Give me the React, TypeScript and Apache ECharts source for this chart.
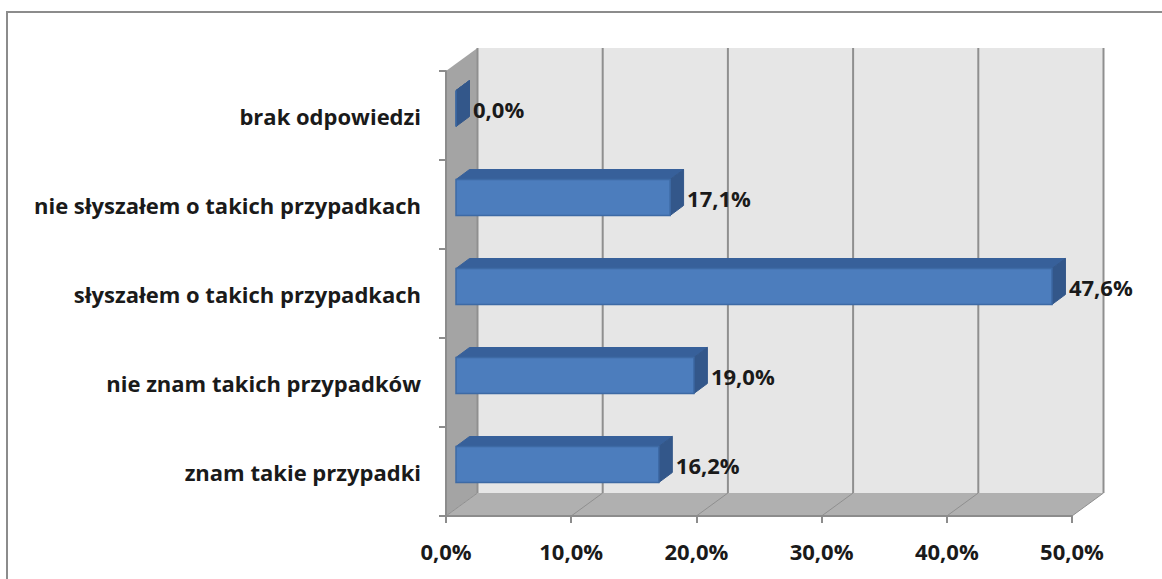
import React, { useEffect, useRef } from "react";
import * as echarts from "echarts";

const categories = ["znam takie przypadki", "nie znam takich przypadków", "słyszałem o takich przypadkach", "nie słyszałem o takich przypadkach", "brak odpowiedzi"];
const values = [16.2, 19.0, 47.6, 17.1, 0.0];
const gridTicks = [0, 10, 20, 30, 40, 50];

const fmt = (v: number) => v.toFixed(1).replace(".", ",") + "%";
const FONT = '"Open Sans", "Noto Sans", sans-serif';
const FS = 22;
const DX = 31.5;
const DY = 23;

export default function App() {
  const ref = useRef<HTMLDivElement>(null);
  useEffect(() => {
    const chart = echarts.init(ref.current!, undefined, { renderer: "svg" });
    const labelStyle = { fontFamily: FONT, fontWeight: 700, fontSize: FS, color: "#1a1a1a" };
    chart.setOption({
      animation: false,
      backgroundColor: "#fff",
      graphic: [
        { type: "rect", z: -1, shape: { x: 7, y: 12, width: 1300, height: 700 }, style: { fill: "#fff", stroke: "#8c8c8c", lineWidth: 2 } },
      ],
      grid: { left: 446, top: 71, width: 626, height: 445, containLabel: false },
      xAxis: {
        type: "value", min: 0, max: 50, interval: 10,
        axisLine: { show: true, lineStyle: { color: "#8c8c8c", width: 2 } },
        axisTick: { show: true, length: 7, lineStyle: { color: "#8c8c8c", width: 2 } },
        splitLine: { show: false },
        axisLabel: { ...labelStyle, margin: 24, formatter: (v: number) => fmt(v) },
        z: 5,
      },
      yAxis: {
        type: "category", data: categories,
        axisLine: { show: true, lineStyle: { color: "#8c8c8c", width: 2 } },
        axisTick: { show: true, length: 7, lineStyle: { color: "#8c8c8c", width: 2 } },
        axisLabel: { ...labelStyle, margin: 25, padding: [4, 0, 0, 0] },
        z: 5,
      },
      series: [
        {
          type: "custom", coordinateSystem: "cartesian2d", clip: false, z: 1, silent: true,
          data: [[0, 0]],
          renderItem: (params: any) => {
            const { x, y, width: w, height: h } = params.coordSys;
            return {
              type: "group",
              children: [
                { type: "polygon", shape: { points: [[x + DX, y - DY], [x + w + DX, y - DY], [x + w + DX, y + h - DY], [x + DX, y + h - DY]] },
                  style: { fill: "#e6e6e6", stroke: "none" } },
                { type: "polygon", shape: { points: [[x, y], [x + DX, y - DY], [x + DX, y + h - DY], [x, y + h]] },
                  style: { fill: "#a4a4a4", stroke: "none" } },
                { type: "polygon", shape: { points: [[x, y + h], [x + DX, y + h - DY], [x + w + DX, y + h - DY], [x + w, y + h]] },
                  style: { fill: "#b0b0b0", stroke: "none" } },
              ],
            };
          },
        },
        {
          type: "custom", coordinateSystem: "cartesian2d", clip: false, z: 2, silent: true,
          encode: { x: 0 },
          data: gridTicks.map((t) => [t, 0]),
          renderItem: (params: any, api: any) => {
            const p = api.coord([api.value(0), 0]);
            const { y, height: h } = params.coordSys;
            const b = y + h;
            const st = { stroke: "#8f8f8f", lineWidth: 2, fill: "none" };
            return {
              type: "group",
              children: [
                { type: "line", shape: { x1: p[0] + DX, y1: y - DY, x2: p[0] + DX, y2: b - DY }, style: st },
                { type: "line", shape: { x1: p[0], y1: b, x2: p[0] + DX, y2: b - DY }, style: { ...st, lineWidth: 1 } },
              ],
            };
          },
        },
        {
          type: "custom", coordinateSystem: "cartesian2d", clip: false, z: 3, silent: true,
          encode: { x: 0, y: 1 },
          data: values.map((v, i) => [v, i]),
          renderItem: (_: any, api: any) => {
            const val = api.value(0);
            const p = api.coord([val, api.value(1)]);
            const z = api.coord([0, api.value(1)]);
            const x0 = z[0] + 10;
            const x1 = p[0] + 10;
            const top = p[1] - 25;
            const bot = p[1] + 11;
            const ox = 13.5;
            const oy = 10;
            return {
              type: "group",
              children: [
                { type: "polygon", shape: { points: [[x0, top], [x0 + ox, top - oy], [x1 + ox, top - oy], [x1, top]] },
                  style: { fill: "#37609a", stroke: "#37609a", lineWidth: 1 } },
                { type: "polygon", shape: { points: [[x1, top], [x1 + ox, top - oy], [x1 + ox, bot - oy], [x1, bot]] },
                  style: { fill: "#33578a", stroke: "#33578a", lineWidth: 1 } },
                { type: "rect", shape: { x: x0, y: top, width: x1 - x0, height: bot - top },
                  style: { fill: "#4c7dbd", stroke: "#3d6aa5", lineWidth: 1.5 } },
                { type: "text", style: { text: fmt(val), x: x1 + 17, y: p[1] - 7, fill: "#1a1a1a", font: `700 ${FS}px ${FONT}`, textAlign: "left", textVerticalAlign: "middle" } },
              ],
            };
          },
        },
      ],
    });
    return () => chart.dispose();
  }, []);
  return <div ref={ref} style={{ position: "absolute", left: 0, top: 0, width: 1162, height: 579 }} />;
}
